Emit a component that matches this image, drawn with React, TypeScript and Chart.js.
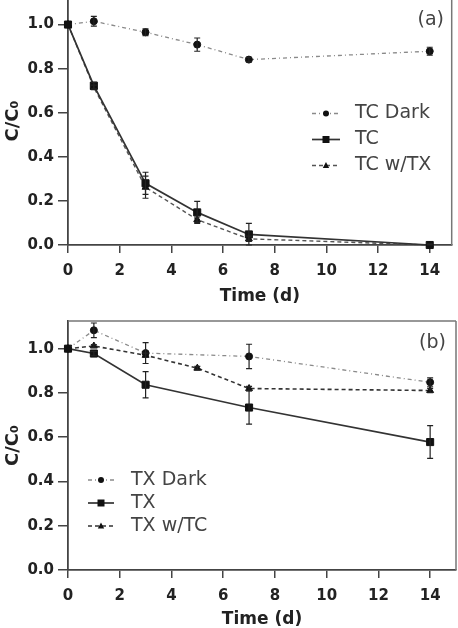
import React, { useEffect, useRef } from 'react';
import { Chart, registerables } from 'chart.js';
Chart.register(...registerables);

// ---------- data ----------
const X_TICKS = [0, 2, 4, 6, 8, 10, 12, 14];
const Y_TICKS = [0, 0.2, 0.4, 0.6, 0.8, 1.0];

// panel (a)
const TC_DARK_X = [0, 1, 3, 5, 7, 14];
const TC_DARK_Y = [1.0, 1.015, 0.965, 0.909, 0.841, 0.879];
const TC_DARK_ERR = [0, 0.022, 0.015, 0.03, 0.01, 0.018];
const TC_X = [0, 1, 3, 5, 7, 14];
const TC_Y = [1.0, 0.723, 0.28, 0.148, 0.048, 0.0];
const TC_ERR = [0, 0.015, 0.05, 0.05, 0.05, 0.005];
const TC_TX_X = [0, 1, 3, 5, 7, 14];
const TC_TX_Y = [1.0, 0.715, 0.262, 0.115, 0.028, 0.0];
const TC_TX_ERR = [0, 0.01, 0.05, 0.012, 0.012, 0];

// panel (b)
const TX_DARK_X = [0, 1, 3, 7, 14];
const TX_DARK_Y = [1.0, 1.083, 0.98, 0.965, 0.848];
const TX_DARK_ERR = [0, 0.033, 0.047, 0.055, 0.02];
const TX_X = [0, 1, 3, 7, 14];
const TX_Y = [1.0, 0.978, 0.837, 0.734, 0.578];
const TX_ERR = [0, 0.01, 0.059, 0.075, 0.074];
const TX_TC_X = [0, 1, 3, 5, 7, 14];
const TX_TC_Y = [1.0, 1.012, 0.97, 0.912, 0.82, 0.811];
const TX_TC_ERR = [0, 0.006, 0.01, 0.008, 0.01, 0.01];

const LABELS_A = ['TC Dark', 'TC', 'TC w/TX'];
const LABELS_B = ['TX Dark', 'TX', 'TX w/TC'];

// ---------- styles ----------
const FONT = 'DejaVu Sans';
const STYLE: Record<string, any> = {
  dark: { borderColor: '#8a8a8a', borderWidth: 1.3, borderDash: [4, 3, 1, 3], pointStyle: 'circle', pointRadius: 3.5 },
  solid: { borderColor: '#333', borderWidth: 1.7, borderDash: [], pointStyle: 'rect', pointRadius: 5 },
  dashed: { borderColor: '#555', borderWidth: 1.4, borderDash: [4, 3], pointStyle: 'triangle', pointRadius: 4 },
};

const zip = (xs: number[], ys: number[]) => xs.map((x, i) => ({ x, y: ys[i] }));

function makeDataset(label: string, xs: number[], ys: number[], errs: number[], kind: string, override: any = {}) {
  const s = { ...STYLE[kind], ...override };
  return {
    label,
    data: zip(xs, ys),
    errors: errs,
    kind,
    borderColor: s.borderColor,
    borderWidth: s.borderWidth,
    borderDash: s.borderDash,
    pointStyle: s.pointStyle,
    pointRadius: s.pointRadius,
    pointBackgroundColor: '#111',
    pointBorderColor: '#111',
    pointBorderWidth: 1,
    fill: false,
    tension: 0,
    clip: false,
  };
}

// ---------- plugins ----------
const errorBars = {
  id: 'errorBars',
  afterDatasetsDraw(chart: any) {
    const { ctx } = chart;
    const xs = chart.scales.x;
    const ys = chart.scales.y;
    chart.data.datasets.forEach((ds: any) => {
      const errs = ds.errors;
      if (!errs) return;
      ctx.save();
      ctx.strokeStyle = '#222';
      ctx.lineWidth = 1.2;
      ds.data.forEach((p: any, i: number) => {
        const e = errs[i];
        if (!e) return;
        const px = xs.getPixelForValue(p.x);
        const top = ys.getPixelForValue(p.y + e);
        const bot = ys.getPixelForValue(Math.max(p.y - e, 0));
        ctx.beginPath();
        ctx.moveTo(px, top);
        ctx.lineTo(px, bot);
        ctx.moveTo(px - 3, top);
        ctx.lineTo(px + 3, top);
        ctx.moveTo(px - 3, bot);
        ctx.lineTo(px + 3, bot);
        ctx.stroke();
      });
      ctx.restore();
    });
  },
};

function drawMarker(ctx: CanvasRenderingContext2D, style: string, x: number, y: number, r: number) {
  ctx.beginPath();
  if (style === 'circle') {
    ctx.arc(x, y, r, 0, Math.PI * 2);
  } else if (style === 'rect') {
    ctx.rect(x - r, y - r, 2 * r, 2 * r);
  } else {
    ctx.moveTo(x, y - r * 1.1);
    ctx.lineTo(x + r, y + r * 0.8);
    ctx.lineTo(x - r, y + r * 0.8);
    ctx.closePath();
  }
  ctx.fill();
}

const decor = {
  id: 'decor',
  afterDraw(chart: any, _args: any, opts: any) {
    const { ctx, chartArea } = chart;
    ctx.save();
    // frame
    ctx.strokeStyle = '#777';
    ctx.lineWidth = 1.5;
    ctx.setLineDash([]);
    ctx.beginPath();
    if (opts.frameTop) {
      ctx.moveTo(chartArea.left, chartArea.top);
      ctx.lineTo(chartArea.right, chartArea.top);
    }
    ctx.moveTo(chartArea.right, chartArea.top);
    ctx.lineTo(chartArea.right, chartArea.bottom);
    ctx.stroke();

    // panel tag
    ctx.fillStyle = '#444';
    ctx.font = `19px "${FONT}"`;
    ctx.textAlign = 'right';
    ctx.textBaseline = 'middle';
    ctx.fillText(opts.tag, opts.tagX, opts.tagY);

    // legend
    ctx.textAlign = 'left';
    chart.data.datasets.forEach((ds: any, i: number) => {
      const y = opts.legendY + i * opts.legendGap;
      ctx.strokeStyle = ds.borderColor;
      ctx.lineWidth = ds.borderWidth;
      ctx.setLineDash(ds.borderDash || []);
      ctx.beginPath();
      ctx.moveTo(opts.sampleX0, y);
      ctx.lineTo(opts.sampleX1, y);
      ctx.stroke();
      ctx.setLineDash([]);
      ctx.fillStyle = '#111';
      const mx = (opts.sampleX0 + opts.sampleX1) / 2;
      const r = ds.pointStyle === 'circle' ? 3 : ds.pointStyle === 'rect' ? 3.5 : 3.2;
      drawMarker(ctx, ds.pointStyle, mx, y, r);
      ctx.fillStyle = '#444';
      ctx.font = `19px "${FONT}"`;
      ctx.fillText(ds.label, opts.textX, y);
    });
    ctx.restore();
  },
};

function makeConfig(datasets: any[], p: any) {
  return {
    type: 'line',
    data: { datasets },
    plugins: [errorBars, decor],
    options: {
      responsive: false,
      animation: false,
      events: [],
      layout: { autoPadding: false, padding: { top: p.padTop, right: p.padRight, bottom: 0, left: 0 } },
      plugins: {
        legend: { display: false },
        tooltip: { enabled: false },
        decor: p.decor,
      },
      scales: {
        x: {
          type: 'linear',
          min: 0,
          max: p.xMax,
          afterBuildTicks: (s: any) => {
            s.ticks = X_TICKS.map((v) => ({ value: v }));
          },
          afterFit: (s: any) => {
            s.height = p.xHeight;
            s.paddingLeft = 0;
            s.paddingRight = 0;
          },
          grid: { drawOnChartArea: false, drawTicks: true, tickLength: 8, color: '#444', lineWidth: 1.5 },
          border: { color: '#444', width: 1.8 },
          ticks: {
            autoSkip: false,
            maxRotation: 0,
            padding: 9,
            color: '#222',
            font: { family: FONT, weight: 'bold', size: 15 },
            callback: (v: any) => String(v),
          },
          title: {
            display: true,
            text: 'Time (d)',
            color: '#222',
            padding: 0,
            font: { family: FONT, weight: 'bold', size: 17 },
          },
        },
        y: {
          type: 'linear',
          min: 0,
          max: 1.125,
          afterBuildTicks: (s: any) => {
            s.ticks = Y_TICKS.map((v) => ({ value: v }));
          },
          afterFit: (s: any) => {
            s.width = 68;
            s.paddingTop = 0;
            s.paddingBottom = 0;
          },
          grid: { drawOnChartArea: false, drawTicks: true, tickLength: 10, color: '#444', lineWidth: 1.5 },
          border: { color: '#444', width: 1.8 },
          ticks: {
            padding: 4,
            color: '#222',
            font: { family: FONT, weight: 'bold', size: 15 },
            callback: (v: any) => Number(v).toFixed(1),
          },
          title: {
            display: true,
            text: 'C/C₀',
            color: '#222',
            padding: { top: 2.5, bottom: 0 },
            font: { family: FONT, weight: 'bold', size: 18 },
          },
        },
      },
    },
  } as any;
}

export default function App() {
  const aRef = useRef<HTMLCanvasElement>(null);
  const bRef = useRef<HTMLCanvasElement>(null);

  useEffect(() => {
    const dsA = [
      makeDataset(LABELS_A[0], TC_DARK_X, TC_DARK_Y, TC_DARK_ERR, 'dark'),
      makeDataset(LABELS_A[1], TC_X, TC_Y, TC_ERR, 'solid'),
      makeDataset(LABELS_A[2], TC_TX_X, TC_TX_Y, TC_TX_ERR, 'dashed'),
    ];
    const dsB = [
      makeDataset(LABELS_B[0], TX_DARK_X, TX_DARK_Y, TX_DARK_ERR, 'dark'),
      makeDataset(LABELS_B[1], TX_X, TX_Y, TX_ERR, 'solid'),
      makeDataset(LABELS_B[2], TX_TC_X, TX_TC_Y, TX_TC_ERR, 'dashed', { borderColor: '#333', borderWidth: 1.6 }),
    ];
    const ca = new Chart(
      aRef.current!,
      makeConfig(dsA, {
        padTop: 0,
        padRight: 6.3,
        xMax: 14.85,
        xHeight: 62,
        decor: {
          frameTop: false,
          tag: '(a)',
          tagX: 444,
          tagY: 23,
          legendY: 116.5,
          legendGap: 26,
          sampleX0: 312,
          sampleX1: 340,
          textX: 355,
        },
      })
    );
    const cb = new Chart(
      bRef.current!,
      makeConfig(dsB, {
        padTop: 5,
        padRight: 2,
        xMax: 15,
        xHeight: 60,
        decor: {
          frameTop: true,
          tag: '(b)',
          tagX: 446,
          tagY: 27,
          legendY: 164,
          legendGap: 23,
          sampleX0: 88,
          sampleX1: 114,
          textX: 131,
        },
      })
    );
    return () => {
      ca.destroy();
      cb.destroy();
    };
  }, []);

  return (
    <div style={{ position: 'fixed', left: 0, top: 0, width: 458, height: 628, background: '#fff', overflow: 'hidden' }}>
      <canvas ref={aRef} width={458} height={310} style={{ position: 'absolute', left: 0, top: -3 }} />
      <canvas ref={bRef} width={458} height={314} style={{ position: 'absolute', left: 0, top: 316 }} />
    </div>
  );
}
